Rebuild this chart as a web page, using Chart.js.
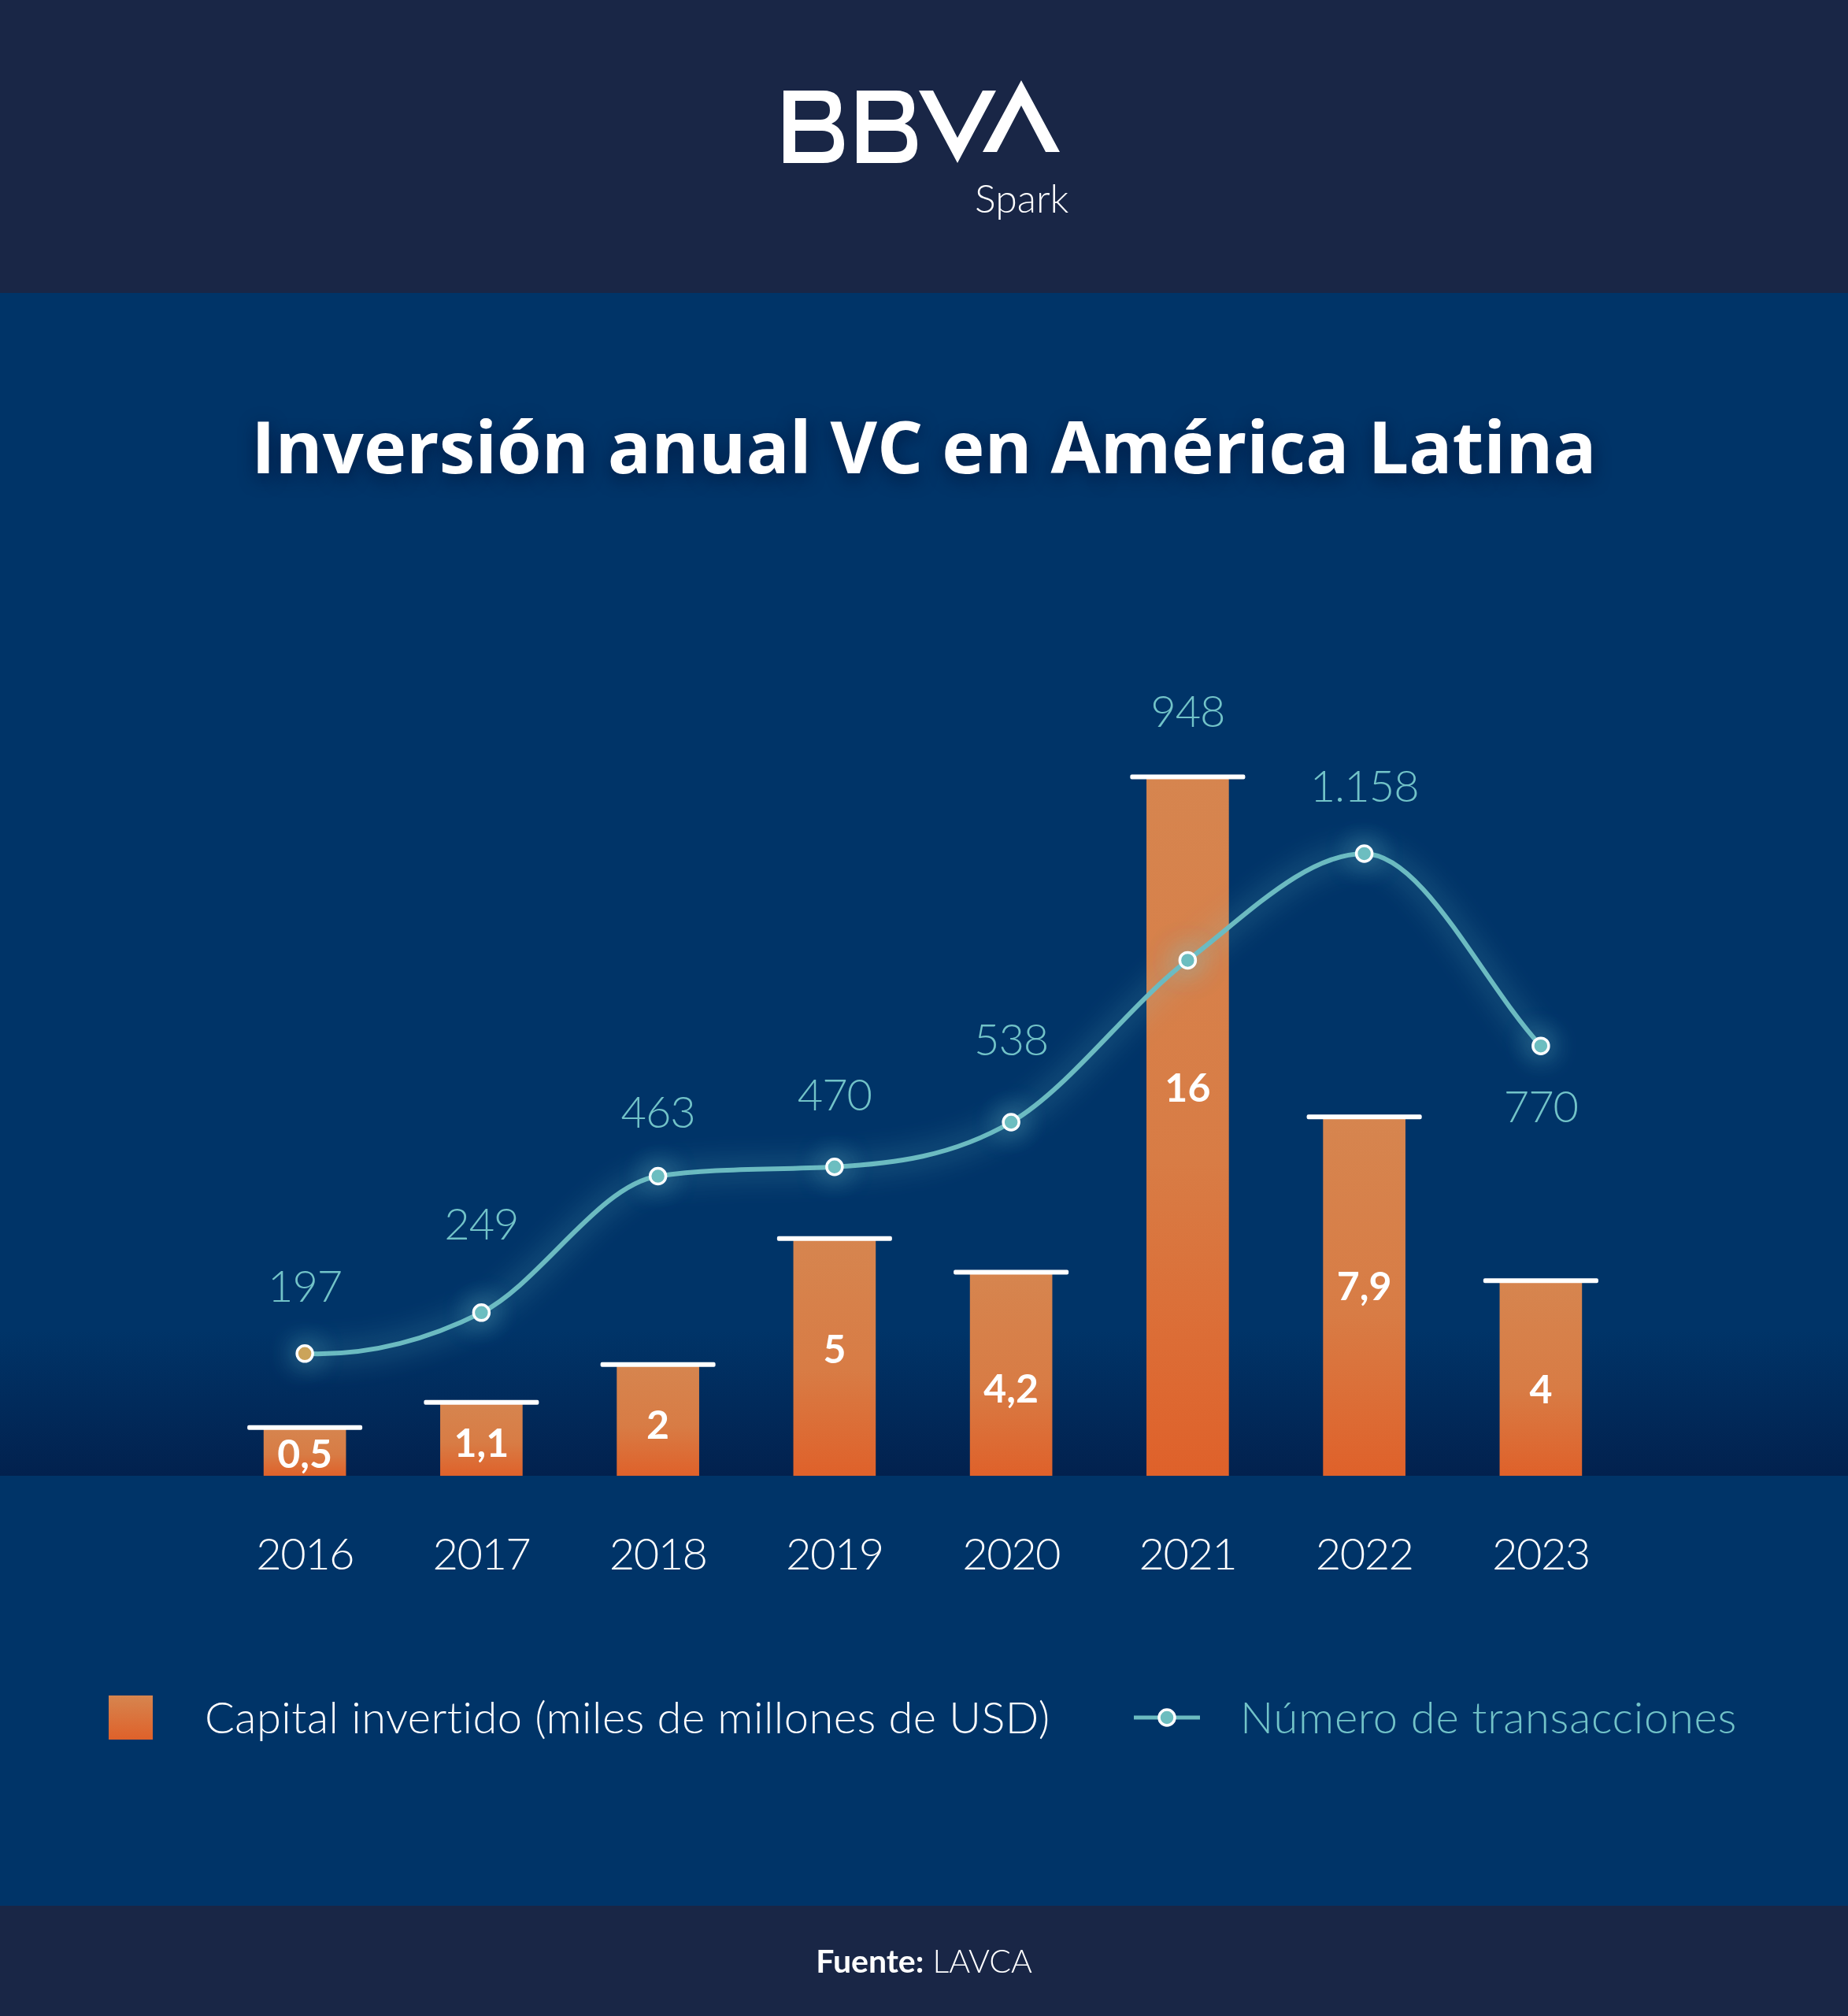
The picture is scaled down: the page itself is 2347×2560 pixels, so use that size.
<!DOCTYPE html>
<html lang="es">
<head>
<meta charset="utf-8">
<title>Inversión anual VC en América Latina</title>
<script src="https://cdn.jsdelivr.net/npm/chart.js@4/dist/chart.umd.min.js"></script>
<style>
  html, body { margin: 0; padding: 0; background: #003468; }
  #pagina { position: relative; width: 2347px; height: 2560px; overflow: hidden; background: #003468; font-family: Lato, sans-serif; }
  .banda { position: absolute; left: 0; width: 2347px; background: #192646; }
  #sombraBase { position: absolute; left: 0; top: 1690px; width: 2347px; height: 184px; background: linear-gradient(to bottom, rgba(2,33,78,0), #02214e); }
  #myChart { position: absolute; left: 0; top: 0; }
  .texto { position: absolute; white-space: nowrap; line-height: 1; }
  #spark { left: 1238px; top: 226px; font-size: 50px; font-weight: 300; color: #fff; }
  #titulo { left: 0; width: 2347px; text-align: center; top: 520px; font-family: "Open Sans", sans-serif; font-size: 91.6px; font-weight: 700; color: #fff; text-shadow: 0 6px 22px rgba(0,10,40,.55); }
  #fuente { left: 0; width: 2347px; text-align: center; top: 2469px; font-size: 41px; font-weight: 300; color: #fff; }
  #fuente b { font-weight: 700; }
  #cuadro { position: absolute; left: 138px; top: 2153px; width: 56px; height: 56px; background: linear-gradient(to bottom, #d6854f, #df612a); }
  #legCapital { left: 260px; top: 2152px; font-size: 56px; font-weight: 300; letter-spacing: 0.5px; color: #fff; }
  #legNumero { left: 1575px; top: 2152px; font-size: 56px; font-weight: 300; letter-spacing: 0.75px; color: #72c3c8; }
  #iconoLinea { position: absolute; left: 1440px; top: 2158px; }
</style>
</head>
<body>
<div id="pagina">
  <div class="banda" style="top:0;height:372px"></div>
  <div class="banda" style="top:2420px;height:140px"></div>
  <div id="sombraBase"></div>

  <svg style="position:absolute;left:0;top:0" width="2347" height="372" fill="#fff" fill-rule="evenodd">
    <path id="b1" d="M995 115H1045Q1068 115 1068 137Q1068 152 1056 157Q1072 163 1072 183Q1072 207 1045 207H995ZM1010 128V152H1042Q1054 152 1054 140Q1054 128 1042 128ZM1010 166V193H1044Q1059 193 1059 180Q1059 166 1044 166Z"/>
    <use href="#b1" x="93"/>
    <path d="M1167 115H1185L1216 175L1248 115H1265L1216 207Z"/>
    <path d="M1297 102L1346 193H1328L1297 134L1266 193H1248Z"/>
  </svg>
  <div class="texto" id="spark">Spark</div>
  <div class="texto" id="titulo">Inversión anual VC en América Latina</div>

  <canvas id="myChart" width="2347" height="2560"></canvas>

  <div id="cuadro"></div>
  <div class="texto" id="legCapital"></div>
  <svg id="iconoLinea" width="84" height="46">
    <rect x="0" y="20.5" width="84" height="5" fill="#6cbbc1"/>
    <circle cx="42" cy="23" r="10" fill="#6cbdbf" stroke="#fff" stroke-width="3.5"/>
  </svg>
  <div class="texto" id="legNumero"></div>
  <div class="texto" id="fuente"><b>Fuente:</b> LAVCA</div>
</div>

<script>
const anios = ['2016', '2017', '2018', '2019', '2020', '2021', '2022', '2023']
const capital = [0.5, 1.1, 2, 5, 4.2, 16, 7.9, 4]
const capitalTexto = ['0,5', '1,1', '2', '5', '4,2', '16', '7,9', '4']
const transaccionesTexto = ['197', '249', '463', '470', '538', '948', '1.158', '770']
// la curva del original no va a escala con sus cifras: alturas
const transaccionesAltura = [197, 263, 483, 498, 570, 831, 1003, 693]
const nombreCapital = 'Capital invertido (miles de millones de USD)'
const nombreTransacciones = 'Número de transacciones'

// ajustes de colocacion de las etiquetas, en pixeles
const ajusteCapital = [5, 7, 8, -9, 20, -47, -11, 16]
const ajusteTransacciones = [-84, -111, -80, -90, -103, -314, -84, 79]

document.getElementById('legCapital').textContent = nombreCapital
document.getElementById('legNumero').textContent = nombreTransacciones

const fuenteLigera = '300 56px Lato, sans-serif'
const turquesa = '#72c3c8'

function colorBarra(ctx) {
  const chart = ctx.chart
  if (ctx.type !== 'data' || !chart.chartArea) return '#d6854f'
  const arriba = chart.scales.yBarras.getPixelForValue(capital[ctx.dataIndex])
  const degradado = chart.ctx.createLinearGradient(0, arriba, 0, chart.chartArea.bottom)
  degradado.addColorStop(0, '#d6854f')
  degradado.addColorStop(0.55, '#d87c45')
  degradado.addColorStop(1, '#df612a')
  return degradado
}

// resplandor de la linea, y arranque plano de la curva en 2016
const brillo = {
  id: 'brillo',
  beforeDraw(chart) {
    chart.ctx.letterSpacing = '-1.5px'
  },
  beforeDatasetDraw(chart, args) {
    if (args.meta.type !== 'line') return
    args.meta.dataset.updateControlPoints(chart.chartArea)
    args.meta.data[0].cp2y = args.meta.data[0].y + 3
    chart.ctx.save()
    chart.ctx.shadowColor = 'rgba(120,205,215,0.8)'
    chart.ctx.shadowBlur = 36
  },
  afterDatasetDraw(chart, args) {
    if (args.meta.type === 'line') chart.ctx.restore()
  }
}

// remates blancos de las barras y cifras
const rotulos = {
  id: 'rotulos',
  afterDatasetsDraw(chart) {
    const c = chart.ctx
    const barras = chart.getDatasetMeta(0).data
    const puntos = chart.getDatasetMeta(1).data
    const base = chart.chartArea.bottom
    c.save()
    c.textAlign = 'center'
    c.textBaseline = 'middle'
    c.letterSpacing = '0px'
    barras.forEach((barra, i) => {
      c.fillStyle = '#fff'
      c.beginPath()
      c.roundRect(barra.x - 73, barra.y - 3, 146, 6, 2)
      c.fill()
      c.font = '700 50px Lato, sans-serif'
      c.fillText(capitalTexto[i], barra.x, (barra.y + base) / 2 + ajusteCapital[i])
    })
    c.letterSpacing = '-1px'
    c.fillStyle = turquesa
    c.font = fuenteLigera
    puntos.forEach((punto, i) => {
      c.fillText(transaccionesTexto[i], punto.x, punto.y + ajusteTransacciones[i])
    })
    c.restore()
  }
}

Chart.defaults.devicePixelRatio = 1

new Chart(document.getElementById('myChart').getContext('2d'), {
  type: 'bar',
  plugins: [brillo, rotulos],
  data: {
    labels: anios,
    datasets: [{
      label: nombreCapital,
      data: capital,
      yAxisID: 'yBarras',
      base: -0.65,
      order: 2,
      barThickness: 104,
      backgroundColor: colorBarra
    }, {
      type: 'line',
      label: nombreTransacciones,
      data: transaccionesAltura,
      yAxisID: 'yLinea',
      order: 1,
      cubicInterpolationMode: 'monotone',
      borderColor: '#6cbbc1',
      borderWidth: 6,
      pointRadius: 10,
      pointBorderWidth: 3.5,
      pointBorderColor: '#fff',
      pointBackgroundColor: anios.map((a, i) => i === 0 ? '#d2a050' : '#6cbdbf')
    }]
  },
  options: {
    responsive: false,
    animation: false,
    layout: { padding: { top: 850, left: 275, right: 278, bottom: 536 } },
    plugins: { legend: { display: false }, tooltip: { enabled: false } },
    scales: {
      x: {
        afterFit(escala) { escala.height = 150 },
        grid: { display: false, drawTicks: false },
        border: { display: false },
        ticks: { color: '#fff', padding: 67, font: { family: 'Lato', size: 56, weight: '300' } }
      },
      yBarras: { display: false, min: -0.65, max: 18.56 },
      yLinea: { display: false, min: 0, max: 1300 }
    }
  }
})
</script>
</body>
</html>
